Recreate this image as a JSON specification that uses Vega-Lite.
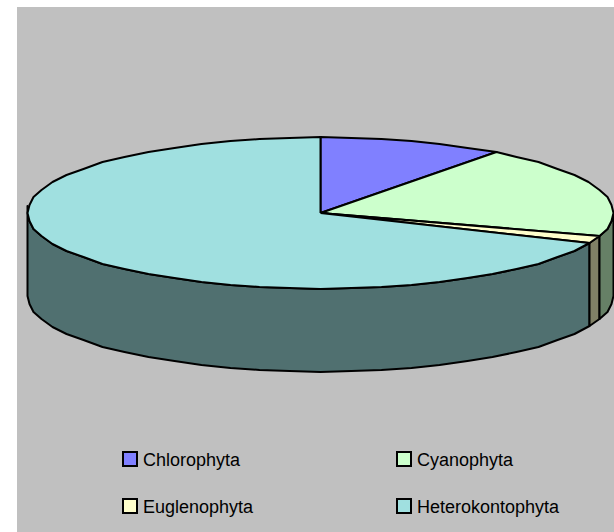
{"$schema":"https://vega.github.io/schema/vega-lite/v6.json","width":614,"height":532,"padding":0,"autosize":"none","background":"white","view":{"stroke":null},
"datasets":{
"panel":[{"x0":17.5,"x1":615,"y0":7,"y1":533}],
"side":[
{"slice":"Heterokontophyta","i":0,"x":590,"y":243},{"slice":"Heterokontophyta","i":1,"x":575,"y":251},{"slice":"Heterokontophyta","i":2,"x":558,"y":257},{"slice":"Heterokontophyta","i":3,"x":539,"y":264},{"slice":"Heterokontophyta","i":4,"x":517,"y":269},{"slice":"Heterokontophyta","i":5,"x":493,"y":274},{"slice":"Heterokontophyta","i":6,"x":468,"y":278},{"slice":"Heterokontophyta","i":7,"x":440,"y":282},{"slice":"Heterokontophyta","i":8,"x":412,"y":285},{"slice":"Heterokontophyta","i":9,"x":382,"y":287},{"slice":"Heterokontophyta","i":10,"x":352,"y":288},{"slice":"Heterokontophyta","i":11,"x":321,"y":289},{"slice":"Heterokontophyta","i":12,"x":290,"y":288},{"slice":"Heterokontophyta","i":13,"x":260,"y":287},{"slice":"Heterokontophyta","i":14,"x":231,"y":285},{"slice":"Heterokontophyta","i":15,"x":202,"y":282},{"slice":"Heterokontophyta","i":16,"x":175,"y":278},{"slice":"Heterokontophyta","i":17,"x":149,"y":274},{"slice":"Heterokontophyta","i":18,"x":125,"y":269},{"slice":"Heterokontophyta","i":19,"x":103,"y":264},{"slice":"Heterokontophyta","i":20,"x":84,"y":257},{"slice":"Heterokontophyta","i":21,"x":67,"y":251},{"slice":"Heterokontophyta","i":22,"x":53,"y":244},{"slice":"Heterokontophyta","i":23,"x":42,"y":236},{"slice":"Heterokontophyta","i":24,"x":34,"y":229},{"slice":"Heterokontophyta","i":25,"x":30,"y":221},{"slice":"Heterokontophyta","i":26,"x":28,"y":206},{"slice":"Heterokontophyta","i":27,"x":28,"y":296},{"slice":"Heterokontophyta","i":28,"x":30,"y":304},{"slice":"Heterokontophyta","i":29,"x":34,"y":312},{"slice":"Heterokontophyta","i":30,"x":42,"y":319},{"slice":"Heterokontophyta","i":31,"x":53,"y":327},{"slice":"Heterokontophyta","i":32,"x":67,"y":334},{"slice":"Heterokontophyta","i":33,"x":84,"y":340},{"slice":"Heterokontophyta","i":34,"x":103,"y":347},{"slice":"Heterokontophyta","i":35,"x":125,"y":352},{"slice":"Heterokontophyta","i":36,"x":149,"y":357},{"slice":"Heterokontophyta","i":37,"x":175,"y":361},{"slice":"Heterokontophyta","i":38,"x":202,"y":365},{"slice":"Heterokontophyta","i":39,"x":231,"y":368},{"slice":"Heterokontophyta","i":40,"x":260,"y":370},{"slice":"Heterokontophyta","i":41,"x":290,"y":371},{"slice":"Heterokontophyta","i":42,"x":321,"y":372},{"slice":"Heterokontophyta","i":43,"x":352,"y":371},{"slice":"Heterokontophyta","i":44,"x":382,"y":370},{"slice":"Heterokontophyta","i":45,"x":412,"y":368},{"slice":"Heterokontophyta","i":46,"x":440,"y":365},{"slice":"Heterokontophyta","i":47,"x":468,"y":361},{"slice":"Heterokontophyta","i":48,"x":493,"y":357},{"slice":"Heterokontophyta","i":49,"x":517,"y":352},{"slice":"Heterokontophyta","i":50,"x":539,"y":347},{"slice":"Heterokontophyta","i":51,"x":558,"y":340},{"slice":"Heterokontophyta","i":52,"x":575,"y":334},{"slice":"Heterokontophyta","i":53,"x":590,"y":326},{"slice":"Heterokontophyta","i":54,"x":590,"y":243},
{"slice":"Euglenophyta","i":0,"x":590,"y":243},{"slice":"Euglenophyta","i":1,"x":600,"y":236},{"slice":"Euglenophyta","i":2,"x":600,"y":319},{"slice":"Euglenophyta","i":3,"x":590,"y":326},{"slice":"Euglenophyta","i":4,"x":590,"y":243},
{"slice":"Cyanophyta","i":0,"x":600,"y":236},{"slice":"Cyanophyta","i":1,"x":608,"y":229},{"slice":"Cyanophyta","i":2,"x":612,"y":221},{"slice":"Cyanophyta","i":3,"x":614,"y":213},{"slice":"Cyanophyta","i":4,"x":614,"y":296},{"slice":"Cyanophyta","i":5,"x":612,"y":304},{"slice":"Cyanophyta","i":6,"x":608,"y":312},{"slice":"Cyanophyta","i":7,"x":600,"y":319},{"slice":"Cyanophyta","i":8,"x":600,"y":236}
],
"top":[
{"slice":"Chlorophyta","i":0,"x":321,"y":213},{"slice":"Chlorophyta","i":1,"x":321,"y":137},{"slice":"Chlorophyta","i":2,"x":352,"y":138},{"slice":"Chlorophyta","i":3,"x":382,"y":139},{"slice":"Chlorophyta","i":4,"x":412,"y":141},{"slice":"Chlorophyta","i":5,"x":440,"y":144},{"slice":"Chlorophyta","i":6,"x":468,"y":148},{"slice":"Chlorophyta","i":7,"x":497,"y":152},{"slice":"Chlorophyta","i":8,"x":321,"y":213},
{"slice":"Cyanophyta","i":0,"x":321,"y":213},{"slice":"Cyanophyta","i":1,"x":497,"y":152},{"slice":"Cyanophyta","i":2,"x":517,"y":157},{"slice":"Cyanophyta","i":3,"x":539,"y":162},{"slice":"Cyanophyta","i":4,"x":558,"y":169},{"slice":"Cyanophyta","i":5,"x":575,"y":175},{"slice":"Cyanophyta","i":6,"x":589,"y":182},{"slice":"Cyanophyta","i":7,"x":600,"y":190},{"slice":"Cyanophyta","i":8,"x":608,"y":197},{"slice":"Cyanophyta","i":9,"x":612,"y":205},{"slice":"Cyanophyta","i":10,"x":614,"y":213},{"slice":"Cyanophyta","i":11,"x":612,"y":221},{"slice":"Cyanophyta","i":12,"x":608,"y":229},{"slice":"Cyanophyta","i":13,"x":600,"y":236},{"slice":"Cyanophyta","i":14,"x":321,"y":213},
{"slice":"Euglenophyta","i":0,"x":321,"y":213},{"slice":"Euglenophyta","i":1,"x":600,"y":236},{"slice":"Euglenophyta","i":2,"x":590,"y":243},{"slice":"Euglenophyta","i":3,"x":321,"y":213},
{"slice":"Heterokontophyta","i":0,"x":321,"y":213},{"slice":"Heterokontophyta","i":1,"x":590,"y":243},{"slice":"Heterokontophyta","i":2,"x":575,"y":251},{"slice":"Heterokontophyta","i":3,"x":558,"y":257},{"slice":"Heterokontophyta","i":4,"x":539,"y":264},{"slice":"Heterokontophyta","i":5,"x":517,"y":269},{"slice":"Heterokontophyta","i":6,"x":493,"y":274},{"slice":"Heterokontophyta","i":7,"x":468,"y":278},{"slice":"Heterokontophyta","i":8,"x":440,"y":282},{"slice":"Heterokontophyta","i":9,"x":412,"y":285},{"slice":"Heterokontophyta","i":10,"x":382,"y":287},{"slice":"Heterokontophyta","i":11,"x":352,"y":288},{"slice":"Heterokontophyta","i":12,"x":321,"y":289},{"slice":"Heterokontophyta","i":13,"x":290,"y":288},{"slice":"Heterokontophyta","i":14,"x":260,"y":287},{"slice":"Heterokontophyta","i":15,"x":231,"y":285},{"slice":"Heterokontophyta","i":16,"x":202,"y":282},{"slice":"Heterokontophyta","i":17,"x":175,"y":278},{"slice":"Heterokontophyta","i":18,"x":149,"y":274},{"slice":"Heterokontophyta","i":19,"x":125,"y":269},{"slice":"Heterokontophyta","i":20,"x":103,"y":264},{"slice":"Heterokontophyta","i":21,"x":84,"y":257},{"slice":"Heterokontophyta","i":22,"x":67,"y":251},{"slice":"Heterokontophyta","i":23,"x":53,"y":244},{"slice":"Heterokontophyta","i":24,"x":42,"y":236},{"slice":"Heterokontophyta","i":25,"x":34,"y":229},{"slice":"Heterokontophyta","i":26,"x":30,"y":221},{"slice":"Heterokontophyta","i":27,"x":28,"y":213},{"slice":"Heterokontophyta","i":28,"x":30,"y":205},{"slice":"Heterokontophyta","i":29,"x":34,"y":197},{"slice":"Heterokontophyta","i":30,"x":42,"y":190},{"slice":"Heterokontophyta","i":31,"x":53,"y":182},{"slice":"Heterokontophyta","i":32,"x":67,"y":175},{"slice":"Heterokontophyta","i":33,"x":84,"y":169},{"slice":"Heterokontophyta","i":34,"x":103,"y":162},{"slice":"Heterokontophyta","i":35,"x":125,"y":157},{"slice":"Heterokontophyta","i":36,"x":149,"y":152},{"slice":"Heterokontophyta","i":37,"x":175,"y":148},{"slice":"Heterokontophyta","i":38,"x":202,"y":144},{"slice":"Heterokontophyta","i":39,"x":231,"y":141},{"slice":"Heterokontophyta","i":40,"x":260,"y":139},{"slice":"Heterokontophyta","i":41,"x":290,"y":138},{"slice":"Heterokontophyta","i":42,"x":321,"y":137},{"slice":"Heterokontophyta","i":43,"x":321,"y":213}
]},
"layer":[
{"data":{"name":"panel"},"mark":{"type":"rect","fill":"#C0C0C0"},"encoding":{"x":{"field":"x0","type":"quantitative","scale":{"domain":[0.5,614.5]},"axis":null},"x2":{"field":"x1"},"y":{"field":"y0","type":"quantitative","scale":{"domain":[532,0]},"axis":null},"y2":{"field":"y1"}}},
{"data":{"name":"side"},"mark":{"type":"line","filled":true,"stroke":"black","strokeWidth":2,"strokeJoin":"round"},"encoding":{"x":{"field":"x","type":"quantitative","scale":{"domain":[0.5,614.5]},"axis":null},"y":{"field":"y","type":"quantitative","scale":{"domain":[532,0]},"axis":null},"order":{"field":"i"},"color":{"field":"slice","type":"nominal","legend":null,"scale":{"domain":["Cyanophyta","Euglenophyta","Heterokontophyta"],"range":["#668066","#808066","#507070"]}}}},
{"data":{"name":"top"},"mark":{"type":"line","filled":true,"stroke":"black","strokeWidth":2,"strokeJoin":"round"},"encoding":{"x":{"field":"x","type":"quantitative","scale":{"domain":[0.5,614.5]},"axis":null},"y":{"field":"y","type":"quantitative","scale":{"domain":[532,0]},"axis":null},"order":{"field":"i"},"color":{"field":"slice","type":"nominal","scale":{"domain":["Chlorophyta","Cyanophyta","Euglenophyta","Heterokontophyta"],"range":["#8080FF","#CCFFCC","#FFFFCC","#A0E0E0"]},"legend":{"title":null,"orient":"none","legendX":121,"legendY":450,"columns":2,"direction":"horizontal","symbolType":"square","symbolSize":196,"symbolStrokeColor":"black","symbolStrokeWidth":2,"labelFont":"Liberation Sans","labelFontSize":18,"labelColor":"#000000","labelOffset":4,"columnPadding":139,"rowPadding":25,"labelLimit":300,"encode":{"labels":{"update":{"dy":{"value":2}}}}}}}}
],
"resolve":{"scale":{"color":"independent"}}}
